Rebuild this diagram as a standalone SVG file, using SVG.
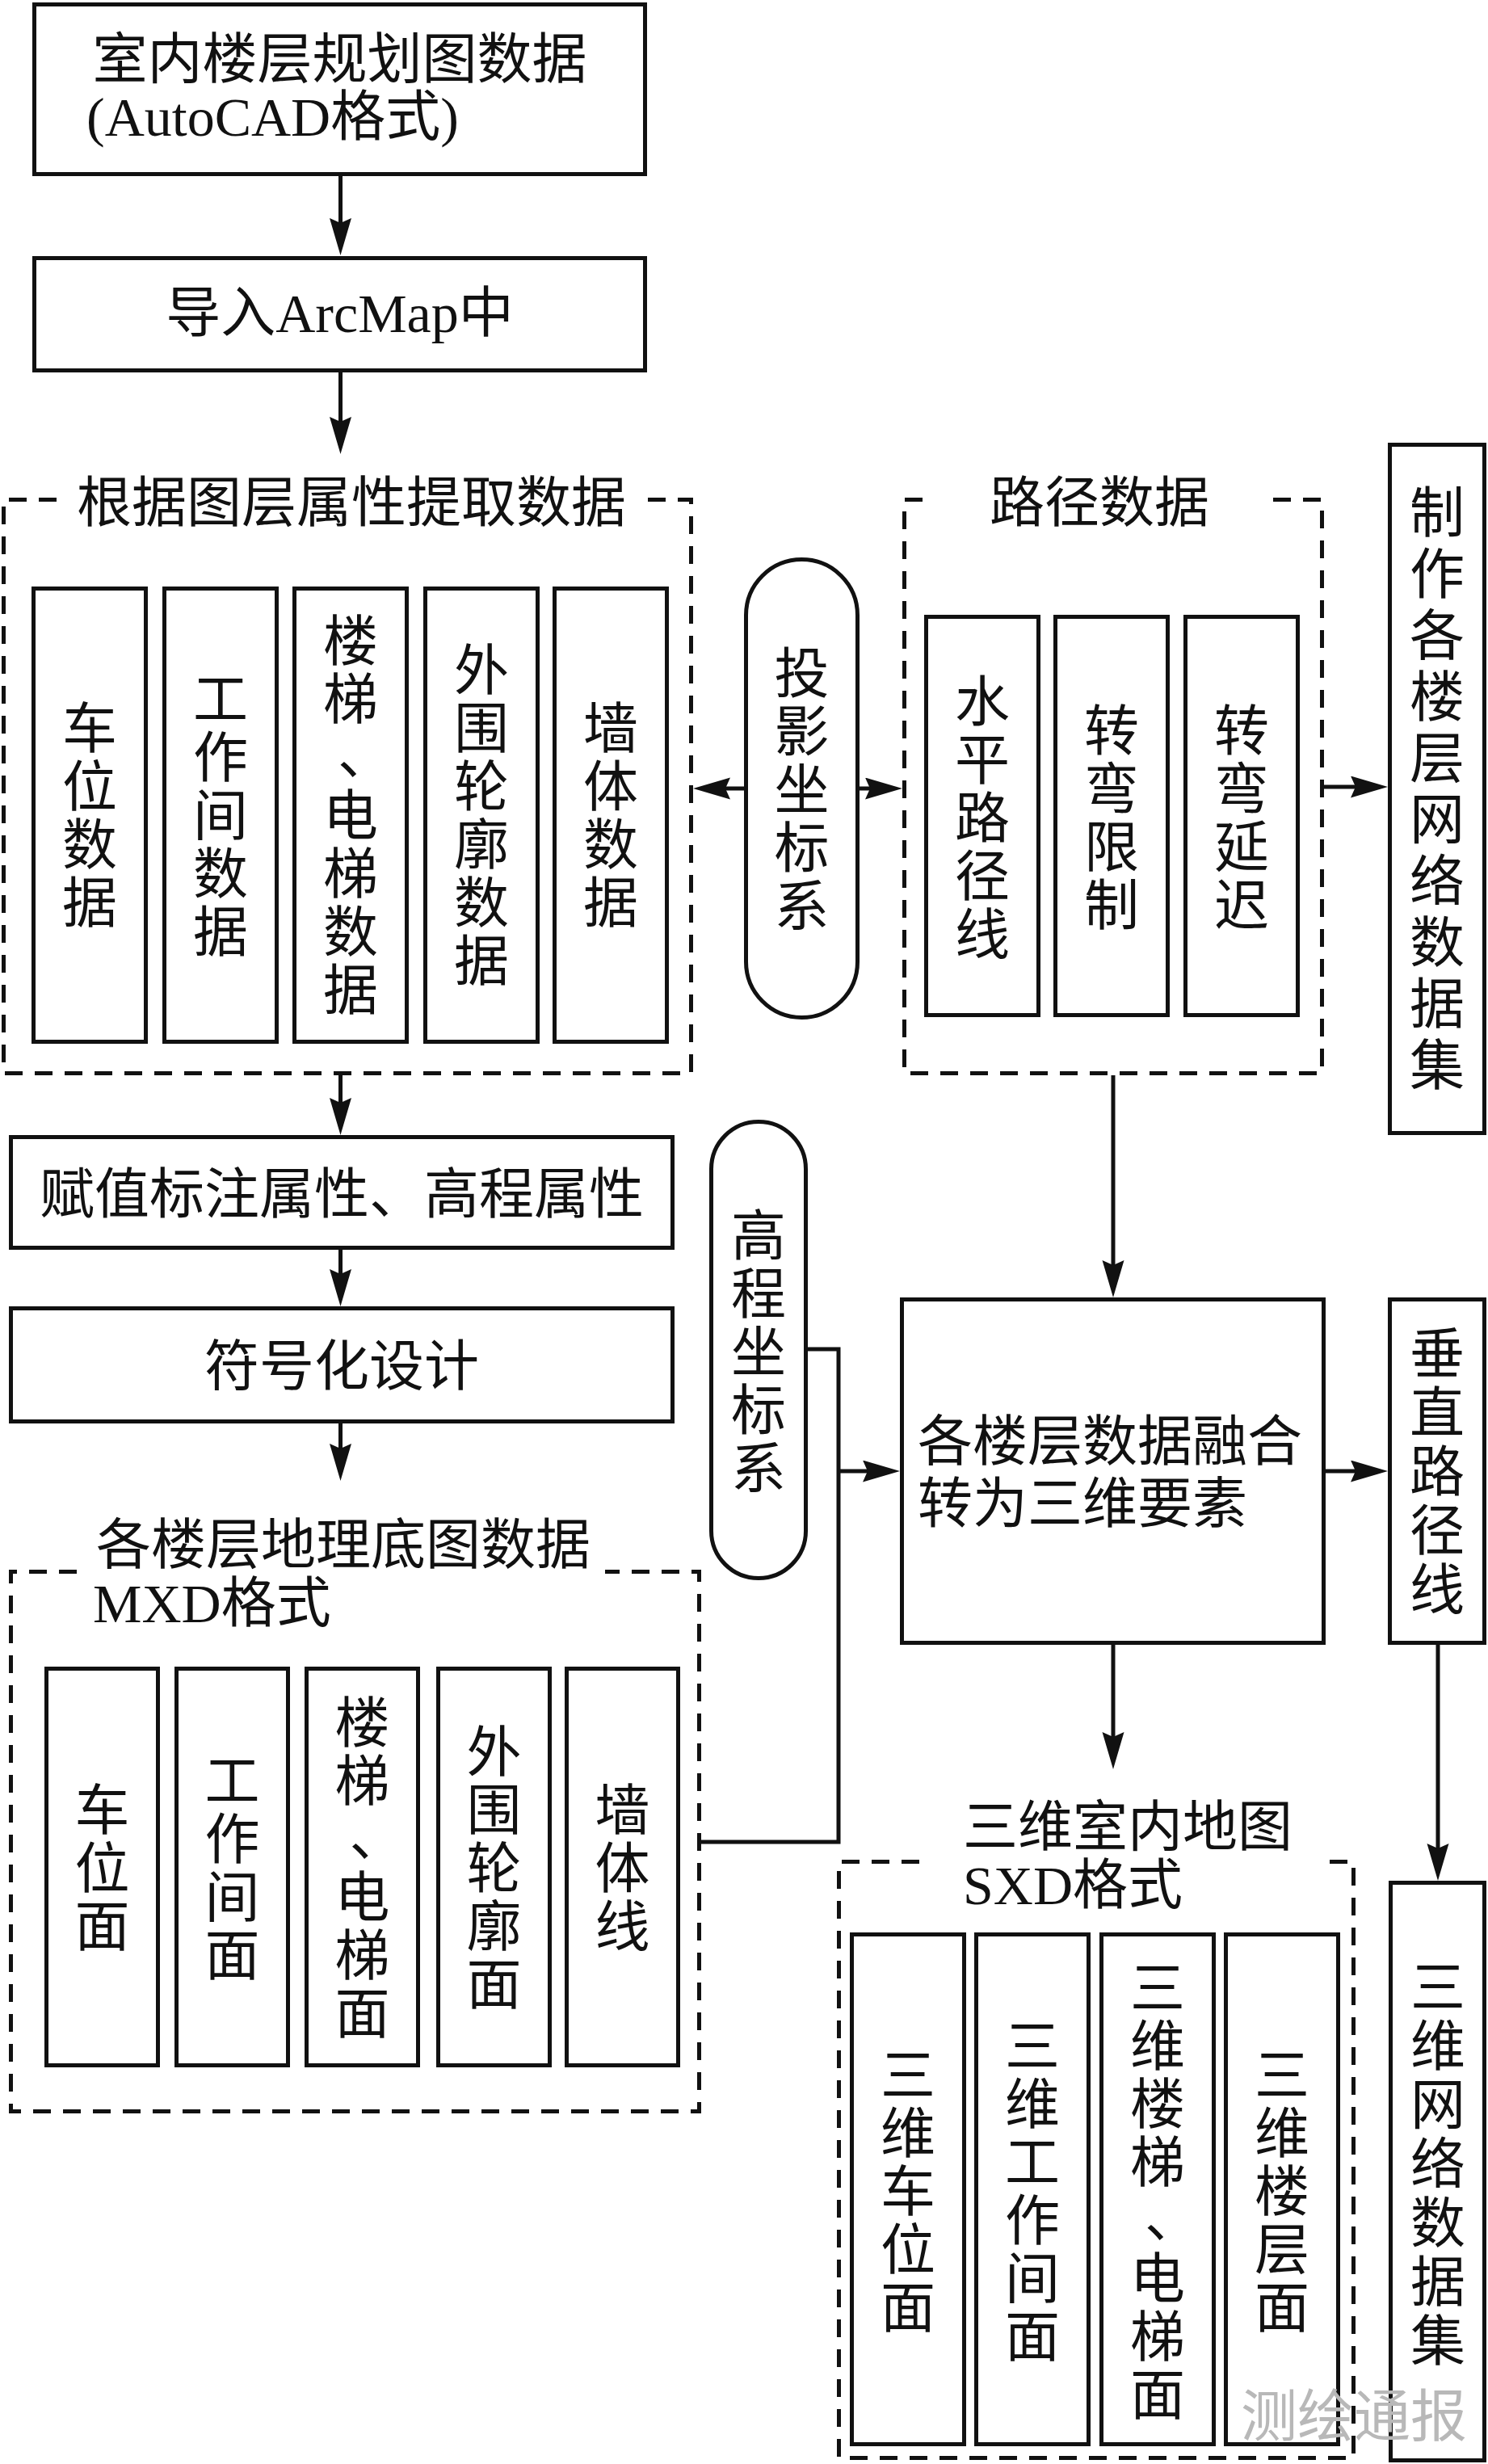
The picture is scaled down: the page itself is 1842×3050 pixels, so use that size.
<svg xmlns="http://www.w3.org/2000/svg" width="1842" height="3050" viewBox="0 0 1842 3050">
<style>
text{font-family:'Liberation Serif','Noto Sans CJK SC',serif;font-size:68px;fill:#111;}
.c{text-anchor:middle;}
.box{fill:#fff;stroke:#111;stroke-width:5;}
.dash{fill:none;stroke:#111;stroke-width:5;stroke-dasharray:22 15;}
.ln{fill:none;stroke:#111;stroke-width:5;}
.arr{fill:none;stroke:#111;stroke-width:5;marker-end:url(#ah);}
.wm{font-family:'Noto Sans CJK SC',sans-serif;font-size:70px;fill:#b8b8b8;}
</style>
<defs>
<marker id="ah" markerUnits="userSpaceOnUse" markerWidth="48" markerHeight="28" refX="36" refY="13.5" orient="auto" viewBox="0 0 48 28">
<path d="M0,0 L46,13.5 L0,27 L6,13.5 Z" fill="#111"/>
</marker>
</defs>
<rect width="1842" height="3050" fill="#fff"/>

<g id="connectors">
<line class="arr" x1="421.5" y1="216" x2="421.5" y2="306"/>
<line class="arr" x1="421.5" y1="461" x2="421.5" y2="552"/>
<line class="arr" x1="923" y1="976" x2="868" y2="976"/>
<line class="arr" x1="1062" y1="976" x2="1107" y2="976"/>
<line class="arr" x1="1639" y1="974" x2="1708" y2="974"/>
<line class="arr" x1="421.5" y1="1331" x2="421.5" y2="1395"/>
<line class="arr" x1="421.5" y1="1547" x2="421.5" y2="1607"/>
<line class="arr" x1="421.5" y1="1762" x2="421.5" y2="1823"/>
<line class="arr" x1="1378" y1="1331" x2="1378" y2="1596"/>
<polyline class="ln" points="998,1670 1038,1670 1038,2280 866,2280"/>
<line class="arr" x1="1038" y1="1821" x2="1104" y2="1821"/>
<line class="arr" x1="1641" y1="1821" x2="1708" y2="1821"/>
<line class="arr" x1="1378" y1="2036" x2="1378" y2="2180"/>
<line class="arr" x1="1780" y1="2036" x2="1780" y2="2318"/>
</g>

<g id="n-cad">
<rect class="box" x="42.5" y="5.5" width="756" height="210"/>
<text class="c" x="420.5" y="97">室内楼层规划图数据</text>
<text x="107" y="168">(AutoCAD格式)</text>
</g>

<g id="n-arcmap">
<rect class="box" x="42.5" y="319.5" width="756" height="139"/>
<text class="c" x="420.5" y="411">导入ArcMap中</text>
</g>

<g id="g-extract">
<path class="dash" d="M70,618.5 H4.5 V1328.5 H855.5 V618.5 H801"/>
<text class="c" x="435" y="646">根据图层属性提取数据</text>
<rect class="box" x="41.5" y="728.5" width="139" height="561"/>
<text class="c" x="111" y="926"><tspan x="111">车</tspan><tspan x="111" dy="72">位</tspan><tspan x="111" dy="72">数</tspan><tspan x="111" dy="72">据</tspan></text>
<rect class="box" x="203.5" y="728.5" width="139" height="561"/>
<text class="c" x="273" y="890"><tspan x="273">工</tspan><tspan x="273" dy="72">作</tspan><tspan x="273" dy="72">间</tspan><tspan x="273" dy="72">数</tspan><tspan x="273" dy="72">据</tspan></text>
<rect class="box" x="364.5" y="728.5" width="139" height="561"/>
<text class="c" x="434" y="818"><tspan x="434">楼</tspan><tspan x="434" dy="72">梯</tspan><tspan x="452" dy="68">、</tspan><tspan x="434" dy="76">电</tspan><tspan x="434" dy="72">梯</tspan><tspan x="434" dy="72">数</tspan><tspan x="434" dy="72">据</tspan></text>
<rect class="box" x="526.5" y="728.5" width="139" height="561"/>
<text class="c" x="596" y="854"><tspan x="596">外</tspan><tspan x="596" dy="72">围</tspan><tspan x="596" dy="72">轮</tspan><tspan x="596" dy="72">廓</tspan><tspan x="596" dy="72">数</tspan><tspan x="596" dy="72">据</tspan></text>
<rect class="box" x="686.5" y="728.5" width="139" height="561"/>
<text class="c" x="756" y="926"><tspan x="756">墙</tspan><tspan x="756" dy="72">体</tspan><tspan x="756" dy="72">数</tspan><tspan x="756" dy="72">据</tspan></text>
</g>

<g id="n-proj">
<rect class="box" x="923.5" y="692.5" width="138" height="567" rx="69" ry="69"/>
<text class="c" x="992.5" y="858"><tspan x="992.5">投</tspan><tspan x="992.5" dy="72">影</tspan><tspan x="992.5" dy="72">坐</tspan><tspan x="992.5" dy="72">标</tspan><tspan x="992.5" dy="72">系</tspan></text>
</g>

<g id="g-route">
<path class="dash" d="M1142,618.5 H1119.5 V1328.5 H1636.5 V618.5 H1572"/>
<text class="c" x="1361" y="646">路径数据</text>
<rect class="box" x="1146.5" y="763.5" width="139" height="493"/>
<text class="c" x="1216" y="893"><tspan x="1216">水</tspan><tspan x="1216" dy="72">平</tspan><tspan x="1216" dy="72">路</tspan><tspan x="1216" dy="72">径</tspan><tspan x="1216" dy="72">线</tspan></text>
<rect class="box" x="1306.5" y="763.5" width="139" height="493"/>
<text class="c" x="1376" y="929"><tspan x="1376">转</tspan><tspan x="1376" dy="72">弯</tspan><tspan x="1376" dy="72">限</tspan><tspan x="1376" dy="72">制</tspan></text>
<rect class="box" x="1467.5" y="763.5" width="139" height="493"/>
<text class="c" x="1537" y="929"><tspan x="1537">转</tspan><tspan x="1537" dy="72">弯</tspan><tspan x="1537" dy="72">延</tspan><tspan x="1537" dy="72">迟</tspan></text>
</g>

<g id="n-floor-net">
<rect class="box" x="1720.5" y="550.5" width="117" height="852"/>
<text class="c" x="1779" y="659"><tspan x="1779">制</tspan><tspan x="1779" dy="76">作</tspan><tspan x="1779" dy="76">各</tspan><tspan x="1779" dy="76">楼</tspan><tspan x="1779" dy="76">层</tspan><tspan x="1779" dy="76">网</tspan><tspan x="1779" dy="76">络</tspan><tspan x="1779" dy="76">数</tspan><tspan x="1779" dy="76">据</tspan><tspan x="1779" dy="76">集</tspan></text>
</g>

<g id="n-assign">
<rect class="box" x="13.5" y="1407.5" width="819" height="137"/>
<text class="c" x="423" y="1502">赋值标注属性、高程属性</text>
</g>

<g id="n-symbol">
<rect class="box" x="13.5" y="1619.5" width="819" height="140"/>
<text class="c" x="423" y="1715">符号化设计</text>
</g>

<g id="g-mxd">
<path class="dash" d="M95,1945.5 H13.5 V2613.5 H865.5 V1945.5 H749"/>
<text class="c" x="425" y="1936">各楼层地理底图数据</text>
<text x="115" y="2008">MXD格式</text>
<rect class="box" x="57.5" y="2065.5" width="138" height="491"/>
<text class="c" x="126.5" y="2265"><tspan x="126.5">车</tspan><tspan x="126.5" dy="72">位</tspan><tspan x="126.5" dy="72">面</tspan></text>
<rect class="box" x="218.5" y="2065.5" width="138" height="491"/>
<text class="c" x="287.5" y="2229"><tspan x="287.5">工</tspan><tspan x="287.5" dy="72">作</tspan><tspan x="287.5" dy="72">间</tspan><tspan x="287.5" dy="72">面</tspan></text>
<rect class="box" x="379.5" y="2065.5" width="138" height="491"/>
<text class="c" x="448.5" y="2157"><tspan x="448.5">楼</tspan><tspan x="448.5" dy="72">梯</tspan><tspan x="466.5" dy="68">、</tspan><tspan x="448.5" dy="76">电</tspan><tspan x="448.5" dy="72">梯</tspan><tspan x="448.5" dy="72">面</tspan></text>
<rect class="box" x="542.5" y="2065.5" width="138" height="491"/>
<text class="c" x="611.5" y="2193"><tspan x="611.5">外</tspan><tspan x="611.5" dy="72">围</tspan><tspan x="611.5" dy="72">轮</tspan><tspan x="611.5" dy="72">廓</tspan><tspan x="611.5" dy="72">面</tspan></text>
<rect class="box" x="701.5" y="2065.5" width="138" height="491"/>
<text class="c" x="770.5" y="2265"><tspan x="770.5">墙</tspan><tspan x="770.5" dy="72">体</tspan><tspan x="770.5" dy="72">线</tspan></text>
</g>

<g id="n-elev">
<rect class="box" x="880.5" y="1388.5" width="117" height="565" rx="58.5" ry="58.5"/>
<text class="c" x="939" y="1554"><tspan x="939">高</tspan><tspan x="939" dy="72">程</tspan><tspan x="939" dy="72">坐</tspan><tspan x="939" dy="72">标</tspan><tspan x="939" dy="72">系</tspan></text>
</g>

<g id="n-merge">
<rect class="box" x="1116.5" y="1608.5" width="522" height="425"/>
<text x="1136" y="1808">各楼层数据融合</text>
<text x="1136" y="1885">转为三维要素</text>
</g>

<g id="n-vertical">
<rect class="box" x="1720.5" y="1608.5" width="117" height="425"/>
<text class="c" x="1779" y="1700"><tspan x="1779">垂</tspan><tspan x="1779" dy="73">直</tspan><tspan x="1779" dy="73">路</tspan><tspan x="1779" dy="73">径</tspan><tspan x="1779" dy="73">线</tspan></text>
</g>

<g id="g-sxd">
<path class="dash" d="M1138,2304.5 H1038.5 V3042.5 H1675.5 V2304.5 H1641"/>
<text class="c" x="1396" y="2285">三维室内地图</text>
<text x="1192" y="2357">SXD格式</text>
<rect class="box" x="1054.5" y="2394.5" width="139" height="631"/>
<text class="c" x="1124" y="2593"><tspan x="1124">三</tspan><tspan x="1124" dy="72">维</tspan><tspan x="1124" dy="72">车</tspan><tspan x="1124" dy="72">位</tspan><tspan x="1124" dy="72">面</tspan></text>
<rect class="box" x="1208.5" y="2394.5" width="139" height="631"/>
<text class="c" x="1278" y="2557"><tspan x="1278">三</tspan><tspan x="1278" dy="72">维</tspan><tspan x="1278" dy="72">工</tspan><tspan x="1278" dy="72">作</tspan><tspan x="1278" dy="72">间</tspan><tspan x="1278" dy="72">面</tspan></text>
<rect class="box" x="1363.5" y="2394.5" width="139" height="631"/>
<text class="c" x="1433" y="2485"><tspan x="1433">三</tspan><tspan x="1433" dy="72">维</tspan><tspan x="1433" dy="72">楼</tspan><tspan x="1433" dy="72">梯</tspan><tspan x="1451" dy="68">、</tspan><tspan x="1433" dy="76">电</tspan><tspan x="1433" dy="72">梯</tspan><tspan x="1433" dy="72">面</tspan></text>
<rect class="box" x="1517.5" y="2394.5" width="139" height="631"/>
<text class="c" x="1587" y="2593"><tspan x="1587">三</tspan><tspan x="1587" dy="72">维</tspan><tspan x="1587" dy="72">楼</tspan><tspan x="1587" dy="72">层</tspan><tspan x="1587" dy="72">面</tspan></text>
</g>

<g id="n-3dnet">
<rect class="box" x="1721.5" y="2330.5" width="116" height="715"/>
<text class="c" x="1780" y="2484"><tspan x="1780">三</tspan><tspan x="1780" dy="73">维</tspan><tspan x="1780" dy="73">网</tspan><tspan x="1780" dy="73">络</tspan><tspan x="1780" dy="73">数</tspan><tspan x="1780" dy="73">据</tspan><tspan x="1780" dy="73">集</tspan></text>
</g>

<text class="wm" x="1536" y="3016">测绘通报</text>
</svg>
